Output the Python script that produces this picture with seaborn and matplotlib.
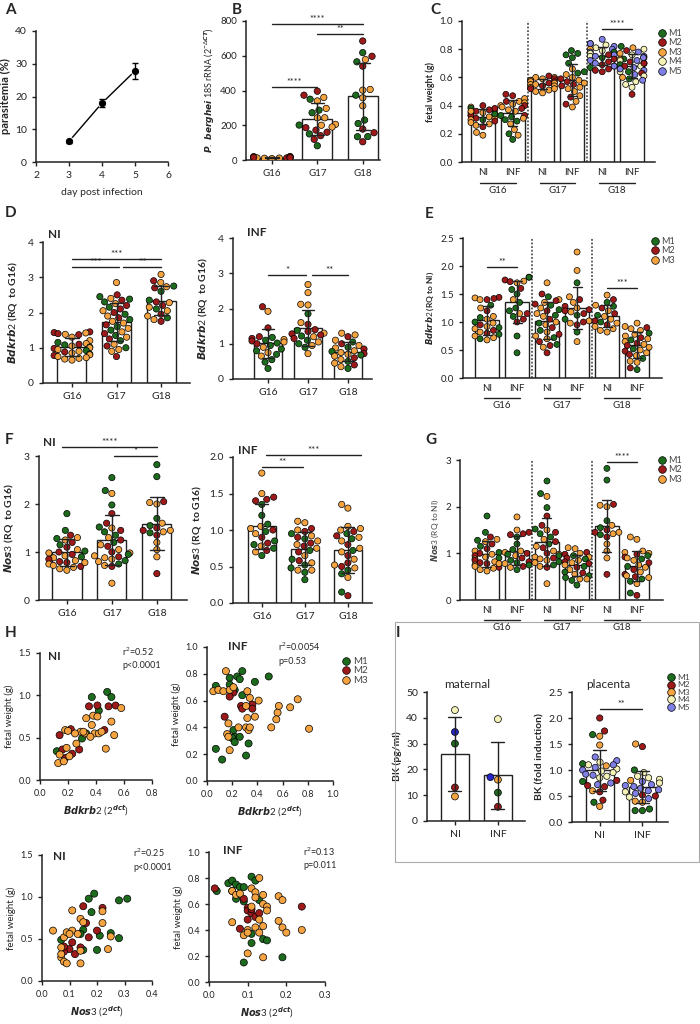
import numpy as np
import pandas as pd
import matplotlib
matplotlib.use("Agg")
import matplotlib.pyplot as plt
import seaborn as sns
from matplotlib.lines import Line2D
from matplotlib.patches import Rectangle
from matplotlib.transforms import blended_transform_factory

sns.set_style("ticks")
plt.rcParams['font.family'] = ['Lato', 'DejaVu Sans']
plt.rcParams['mathtext.fontset'] = 'custom'
plt.rcParams['mathtext.it'] = 'DejaVu Sans:italic:bold'
plt.rcParams['mathtext.rm'] = 'Lato'
plt.rcParams['mathtext.bf'] = 'Lato:bold'

# ---------------- colours ----------------
PAL = {"M1": "#1d6b1d", "M2": "#9e1a1a", "M3": "#f4a340", "M4": "#f5f2b8", "M5": "#7f7fe6"}
PAL_MAT = {"M1": "#1d6b1d", "M2": "#9e1a1a", "M3": "#f4a340", "M4": "#f5f2b8", "M5": "#2424c8"}

# ---------------- A ----------------
A_day = [3, 4, 5]
A_para = [6.3, 18.0, 27.8]
A_err = [0.5, 1.3, 2.5]

# ---------------- B ----------------
B_groups = ["G16", "G17", "G18"]
B_G16_v = [15, 10, 18, 12, 20, 8, 14, 16, 11, 19, 13, 17, 12, 15]
B_G16_m = [3, 3, 1, 2, 3, 3, 1, 2, 3, 1, 2, 3, 3, 2]
B_G17_v = [350, 287, 272, 201, 82, 150, 396, 373, 186, 172, 160, 119, 140, 360, 340, 297, 243, 243, 205, 200, 190]
B_G17_m = [1, 1, 1, 1, 1, 1, 2, 2, 2, 2, 2, 2, 2, 3, 3, 3, 3, 3, 3, 3, 3]
B_G18_v = [685, 597, 540, 178, 157, 105, 618, 565, 373, 230, 210, 134, 135, 578, 406, 402, 358, 312]
B_G18_m = [2, 2, 2, 2, 2, 2, 1, 1, 1, 1, 1, 1, 1, 3, 3, 3, 3, 3]

# ---------------- C (fetal weight) ----------------
C_ticklabels = ["NI", "INF", "NI", "INF", "NI", "INF"]
C_gest = ["G16", "G17", "G18"]
C_G16NI_v = [0.40, 0.39, 0.38, 0.37, 0.36, 0.35, 0.35, 0.34, 0.33, 0.33, 0.32, 0.31, 0.31, 0.30, 0.30, 0.29, 0.28, 0.27, 0.26, 0.25, 0.21, 0.19, 0.38, 0.36, 0.34, 0.37]
C_G16NI_m = [2, 3, 1, 3, 2, 3, 2, 3, 1, 2, 3, 2, 3, 1, 3, 2, 3, 3, 3, 2, 3, 3, 2, 3, 1, 2]
C_G16INF_v = [0.48, 0.47, 0.45, 0.43, 0.43, 0.42, 0.41, 0.40, 0.40, 0.39, 0.38, 0.37, 0.36, 0.33, 0.33, 0.32, 0.31, 0.30, 0.29, 0.27, 0.23, 0.20, 0.19, 0.16]
C_G16INF_m = [2, 2, 3, 3, 2, 3, 3, 2, 3, 3, 2, 3, 3, 1, 2, 1, 3, 1, 1, 3, 3, 1, 3, 1]
C_G17NI_v = [0.61, 0.60, 0.60, 0.59, 0.59, 0.58, 0.58, 0.57, 0.57, 0.56, 0.56, 0.55, 0.55, 0.54, 0.54, 0.53, 0.52, 0.52, 0.51, 0.50, 0.49]
C_G17NI_m = [2, 3, 3, 3, 2, 3, 3, 2, 3, 3, 2, 3, 3, 3, 2, 3, 3, 2, 3, 3, 3]
C_G17INF_v = [0.79, 0.77, 0.76, 0.74, 0.70, 0.66, 0.64, 0.63, 0.62, 0.60, 0.59, 0.58, 0.57, 0.56, 0.55, 0.54, 0.53, 0.52, 0.50, 0.47, 0.46, 0.43, 0.41, 0.39]
C_G17INF_m = [1, 1, 1, 1, 1, 3, 1, 1, 3, 3, 2, 3, 2, 3, 2, 2, 3, 3, 3, 3, 2, 3, 2, 3]
C_G18NI_v = [0.87, 0.84, 0.84, 0.83, 0.82, 0.81, 0.80, 0.80, 0.79, 0.78, 0.78, 0.77, 0.76, 0.76, 0.75, 0.75, 0.74, 0.73, 0.72, 0.71, 0.70, 0.69, 0.68, 0.68, 0.67, 0.66, 0.65, 0.64]
C_G18NI_m = [5, 4, 5, 4, 5, 4, 5, 3, 4, 5, 1, 4, 5, 2, 4, 5, 1, 2, 5, 2, 5, 2, 4, 5, 1, 2, 2, 2]
C_G18INF_v = [0.82, 0.81, 0.80, 0.79, 0.78, 0.77, 0.76, 0.75, 0.74, 0.73, 0.73, 0.72, 0.72, 0.71, 0.70, 0.70, 0.69, 0.68, 0.68, 0.67, 0.66, 0.65, 0.64, 0.64, 0.63, 0.62, 0.61, 0.60, 0.59, 0.58, 0.57, 0.55, 0.53, 0.48, 0.66, 0.70, 0.74]
C_G18INF_m = [1, 3, 4, 2, 5, 3, 4, 5, 2, 1, 3, 5, 4, 2, 3, 5, 1, 4, 2, 5, 3, 5, 1, 4, 2, 5, 4, 3, 1, 5, 4, 4, 4, 2, 5, 2, 5]

# ---------------- D (Bdkrb2 RQ to G16) ----------------
D_NI_G16_v = [1.45, 1.43, 1.42, 1.40, 1.38, 1.37, 1.30, 1.20, 1.15, 1.12, 1.10, 1.08, 1.05, 1.02, 1.00, 0.98, 0.95, 0.92, 0.90, 0.88, 0.85, 0.82, 0.80, 0.78, 0.75, 0.72, 0.70, 0.68, 0.65]
D_NI_G16_m = [2, 2, 3, 2, 3, 2, 3, 3, 1, 3, 2, 1, 3, 1, 3, 2, 3, 1, 3, 2, 3, 1, 3, 2, 3, 3, 3, 3, 3]
D_NI_G17_v = [2.85, 2.50, 2.45, 2.40, 2.38, 2.35, 2.30, 2.25, 2.20, 2.15, 2.10, 2.05, 2.00, 1.95, 1.90, 1.85, 1.80, 1.75, 1.70, 1.65, 1.60, 1.55, 1.50, 1.45, 1.40, 1.35, 1.30, 1.25, 1.20, 1.10, 1.05, 1.00, 0.95, 0.90, 0.75]
D_NI_G17_m = [3, 2, 1, 3, 1, 2, 1, 3, 2, 1, 2, 3, 2, 1, 3, 2, 1, 3, 3, 2, 1, 3, 1, 3, 2, 1, 3, 2, 1, 3, 2, 1, 3, 3, 2]
D_NI_G18_v = [3.08, 2.90, 2.85, 2.75, 2.73, 2.70, 2.60, 2.35, 2.30, 2.28, 2.20, 2.15, 2.10, 2.05, 1.95, 1.90, 1.85, 1.80, 1.75]
D_NI_G18_m = [3, 2, 3, 1, 3, 2, 1, 1, 2, 3, 2, 3, 1, 3, 2, 3, 1, 3, 2]
D_INF_G16_v = [2.05, 1.92, 1.45, 1.20, 1.18, 1.15, 1.12, 1.10, 1.08, 1.05, 1.02, 1.00, 0.95, 0.90, 0.85, 0.80, 0.75, 0.70, 0.65, 0.55, 0.48, 0.30]
D_INF_G16_m = [2, 3, 2, 2, 1, 2, 3, 1, 2, 3, 1, 2, 1, 3, 1, 1, 3, 1, 3, 1, 1, 1]
D_INF_G17_v = [2.68, 2.45, 2.12, 2.10, 1.85, 1.60, 1.55, 1.40, 1.38, 1.35, 1.30, 1.28, 1.25, 1.22, 1.20, 1.15, 1.10, 1.05, 1.00, 0.95, 0.90, 0.72]
D_INF_G17_m = [3, 3, 3, 3, 1, 3, 2, 2, 1, 2, 3, 2, 2, 1, 3, 2, 1, 3, 1, 3, 1, 3]
D_INF_G18_v = [1.30, 1.25, 1.20, 1.10, 1.05, 1.00, 0.95, 0.90, 0.88, 0.85, 0.80, 0.78, 0.75, 0.72, 0.70, 0.68, 0.65, 0.60, 0.55, 0.50, 0.45, 0.40, 0.35, 0.30]
D_INF_G18_m = [3, 3, 2, 3, 1, 2, 3, 1, 3, 2, 3, 1, 3, 2, 3, 1, 3, 2, 3, 1, 3, 2, 3, 1]

# ---------------- E (Bdkrb2 RQ to NI) ----------------
E_G16NI_v = [1.44, 1.43, 1.42, 1.40, 1.40, 1.30, 1.25, 1.20, 1.10, 1.08, 1.05, 1.00, 0.98, 0.95, 0.92, 0.90, 0.88, 0.85, 0.82, 0.80, 0.78, 0.75, 0.72, 0.70, 0.68]
E_G16NI_m = [2, 3, 2, 2, 3, 1, 3, 2, 3, 1, 3, 1, 3, 2, 3, 1, 3, 2, 3, 2, 1, 3, 3, 1, 3]
E_G16INF_v = [1.80, 1.80, 1.75, 1.73, 1.72, 1.70, 1.60, 1.58, 1.50, 1.40, 1.35, 1.25, 1.20, 1.15, 1.15, 1.10, 1.05, 1.00, 0.75, 0.45]
E_G16INF_m = [2, 1, 2, 3, 2, 3, 2, 1, 1, 3, 1, 1, 1, 3, 2, 1, 2, 2, 1, 1]
E_G17NI_v = [1.70, 1.50, 1.45, 1.40, 1.38, 1.35, 1.32, 1.30, 1.25, 1.22, 1.20, 1.15, 1.12, 1.10, 1.05, 1.00, 0.98, 0.95, 0.90, 0.85, 0.82, 0.78, 0.75, 0.72, 0.70, 0.65, 0.60, 0.58, 0.55, 0.45]
E_G17NI_m = [3, 2, 1, 3, 2, 3, 2, 1, 3, 1, 2, 3, 1, 3, 2, 3, 1, 3, 2, 1, 3, 2, 3, 1, 3, 2, 1, 2, 3, 2]
E_G17INF_v = [2.25, 1.92, 1.70, 1.45, 1.40, 1.35, 1.28, 1.25, 1.22, 1.20, 1.18, 1.15, 1.12, 1.05, 1.02, 1.00, 0.98, 0.95, 0.82, 0.65]
E_G17INF_m = [3, 3, 1, 3, 2, 3, 2, 3, 2, 2, 3, 2, 1, 1, 3, 2, 3, 2, 1, 3]
E_G18NI_v = [1.48, 1.40, 1.35, 1.30, 1.28, 1.25, 1.20, 1.15, 1.12, 1.10, 1.05, 1.02, 1.00, 0.98, 0.95, 0.92, 0.88, 0.85, 0.82]
E_G18NI_m = [3, 2, 1, 3, 1, 2, 3, 2, 1, 3, 3, 2, 1, 3, 2, 3, 3, 3, 3]
E_G18INF_v = [0.98, 0.92, 0.90, 0.88, 0.85, 0.80, 0.78, 0.75, 0.72, 0.70, 0.68, 0.65, 0.62, 0.60, 0.58, 0.55, 0.52, 0.50, 0.48, 0.45, 0.42, 0.40, 0.35, 0.30, 0.28, 0.18, 0.15]
E_G18INF_m = [3, 3, 2, 3, 3, 1, 3, 3, 2, 3, 1, 3, 2, 3, 2, 3, 1, 3, 2, 3, 2, 3, 1, 3, 3, 2, 1]

# ---------------- F / G (Nos3) ----------------
F_NI_G16_v = [1.80, 1.45, 1.35, 1.30, 1.28, 1.25, 1.20, 1.15, 1.10, 1.05, 1.02, 1.00, 0.98, 0.95, 0.92, 0.90, 0.88, 0.85, 0.82, 0.80, 0.78, 0.75, 0.72, 0.70, 0.68, 0.65, 0.62, 0.78]
F_NI_G16_m = [1, 1, 2, 3, 1, 3, 2, 1, 2, 3, 1, 2, 3, 2, 3, 1, 3, 2, 3, 2, 2, 3, 3, 2, 3, 3, 3, 3]
F_NI_G17_v = [2.55, 2.28, 2.22, 1.98, 1.80, 1.60, 1.52, 1.50, 1.45, 1.42, 1.35, 1.30, 1.25, 1.20, 1.15, 1.12, 1.05, 1.00, 0.98, 0.95, 0.92, 0.90, 0.88, 0.85, 0.82, 0.80, 0.75, 0.72, 0.70, 0.35]
F_NI_G17_m = [1, 1, 3, 1, 2, 2, 1, 3, 2, 1, 1, 3, 2, 1, 3, 2, 3, 2, 3, 1, 3, 2, 3, 3, 1, 3, 1, 3, 2, 3]
F_NI_G18_v = [2.82, 2.57, 2.05, 2.03, 2.00, 1.70, 1.60, 1.55, 1.50, 1.45, 1.45, 1.42, 1.40, 1.35, 1.20, 1.05, 0.90, 0.55]
F_NI_G18_m = [1, 1, 2, 3, 3, 1, 3, 1, 2, 3, 2, 3, 1, 2, 3, 3, 3, 2]
F_INF_G16_v = [1.78, 1.50, 1.45, 1.42, 1.40, 1.35, 1.20, 1.08, 1.05, 1.02, 1.00, 0.98, 0.95, 0.90, 0.85, 0.82, 0.80, 0.78, 0.75, 0.72, 0.70, 0.65]
F_INF_G16_m = [3, 3, 2, 2, 2, 1, 1, 1, 3, 3, 2, 1, 3, 2, 1, 2, 1, 3, 1, 2, 3, 1]
F_INF_G17_v = [1.12, 1.10, 1.02, 1.00, 0.98, 0.95, 0.92, 0.90, 0.88, 0.85, 0.82, 0.80, 0.78, 0.75, 0.72, 0.70, 0.65, 0.60, 0.58, 0.55, 0.52, 0.48, 0.45, 0.45, 0.42, 0.32]
F_INF_G17_m = [3, 3, 2, 3, 2, 1, 3, 2, 1, 3, 2, 3, 2, 3, 1, 2, 3, 1, 2, 3, 1, 1, 3, 3, 1, 1]
F_INF_G18_v = [1.35, 1.30, 1.05, 1.02, 1.00, 0.98, 0.95, 0.92, 0.90, 0.88, 0.85, 0.80, 0.75, 0.72, 0.70, 0.65, 0.60, 0.55, 0.52, 0.50, 0.48, 0.45, 0.40, 0.35, 0.15, 0.10]
F_INF_G18_m = [3, 3, 3, 3, 3, 2, 1, 2, 3, 1, 3, 2, 3, 1, 3, 2, 3, 2, 3, 2, 3, 1, 1, 3, 1, 2]

# ---------------- H scatter ----------------
H1_x = [0.48, 0.51, 0.37, 0.42, 0.30, 0.12, 0.33,
        0.35, 0.41, 0.49, 0.54, 0.14, 0.22, 0.28, 0.23, 0.18, 0.16, 0.46,
        0.58, 0.51, 0.53, 0.47, 0.33, 0.38, 0.41, 0.37, 0.18, 0.20, 0.26, 0.29, 0.32, 0.39, 0.42, 0.44, 0.36, 0.13, 0.17, 0.19, 0.14, 0.21, 0.31, 0.25]
H1_y = [1.04, 0.98, 0.98, 0.82, 0.49, 0.34, 0.55,
        0.87, 0.88, 0.87, 0.88, 0.53, 0.60, 0.36, 0.31, 0.26, 0.36, 0.59,
        0.85, 0.69, 0.53, 0.37, 0.73, 0.76, 0.75, 0.65, 0.59, 0.58, 0.43, 0.57, 0.55, 0.55, 0.55, 0.57, 0.51, 0.20, 0.22, 0.38, 0.30, 0.28, 0.57, 0.55]
H1_m = [1, 1, 1, 1, 1, 1, 1,
        2, 2, 2, 2, 2, 2, 2, 2, 2, 2, 2,
        3, 3, 3, 3, 3, 3, 3, 3, 3, 3, 3, 3, 3, 3, 3, 3, 3, 3, 3, 3, 3, 3, 3, 3]

H2_x = [0.07, 0.28, 0.18, 0.24, 0.26, 0.38, 0.49, 0.18, 0.22, 0.28, 0.21, 0.22, 0.26, 0.20, 0.07, 0.12, 0.31, 0.22, 0.33,
        0.14, 0.20, 0.27, 0.28, 0.36, 0.36, 0.21, 0.18,
        0.15, 0.05, 0.09, 0.13, 0.18, 0.21, 0.32, 0.41, 0.34, 0.31, 0.32, 0.31, 0.33, 0.25, 0.34, 0.17, 0.16, 0.18, 0.38, 0.57, 0.56, 0.55, 0.51, 0.66, 0.72, 0.81, 0.17]
H2_y = [0.71, 0.82, 0.77, 0.78, 0.76, 0.74, 0.78, 0.72, 0.68, 0.64, 0.38, 0.33, 0.33, 0.32, 0.24, 0.16, 0.19, 0.29, 0.28,
        0.48, 0.67, 0.56, 0.54, 0.57, 0.54, 0.66, 0.63,
        0.82, 0.67, 0.68, 0.67, 0.68, 0.70, 0.67, 0.60, 0.62, 0.56, 0.47, 0.40, 0.38, 0.40, 0.40, 0.43, 0.35, 0.23, 0.48, 0.56, 0.51, 0.46, 0.40, 0.55, 0.61, 0.39, 0.33]
H2_m = [1, 1, 1, 1, 1, 1, 1, 1, 1, 1, 1, 1, 1, 1, 1, 1, 1, 1, 1,
        2, 2, 2, 2, 2, 2, 2, 2,
        3, 3, 3, 3, 3, 3, 3, 3, 3, 3, 3, 3, 3, 3, 3, 3, 3, 3, 3, 3, 3, 3, 3, 3, 3, 3, 3]

H3_x = [0.19, 0.17, 0.28, 0.31, 0.18, 0.21, 0.25, 0.28, 0.20, 0.15, 0.15, 0.14, 0.07,
        0.15, 0.22, 0.20, 0.17, 0.10, 0.08, 0.11, 0.12, 0.14, 0.16, 0.08,
        0.04, 0.11, 0.14, 0.15, 0.22, 0.22, 0.24, 0.25, 0.08, 0.09, 0.11, 0.13, 0.07, 0.08, 0.09, 0.14, 0.07, 0.14, 0.07, 0.10]
H3_y = [1.04, 0.98, 0.96, 0.98, 0.82, 0.54, 0.57, 0.51, 0.37, 0.37, 0.61, 0.56, 0.49,
        0.89, 0.87, 0.60, 0.52, 0.38, 0.35, 0.46, 0.32, 0.40, 0.69, 0.41,
        0.60, 0.84, 0.74, 0.70, 0.83, 0.69, 0.38, 0.53, 0.52, 0.58, 0.60, 0.56, 0.28, 0.23, 0.21, 0.21, 0.32, 0.36, 0.40, 0.56]
H3_m = [1, 1, 1, 1, 1, 1, 1, 1, 1, 1, 1, 1, 1,
        2, 2, 2, 2, 2, 2, 2, 2, 2, 2, 2,
        3, 3, 3, 3, 3, 3, 3, 3, 3, 3, 3, 3, 3, 3, 3, 3, 3, 3, 3, 3]

H4_x = [0.02, 0.05, 0.06, 0.07, 0.08, 0.09, 0.11, 0.12, 0.07, 0.09, 0.13, 0.11, 0.11, 0.14, 0.15, 0.09, 0.19, 0.06,
        0.015, 0.09, 0.10, 0.10, 0.11, 0.10, 0.12, 0.13, 0.08, 0.24, 0.11,
        0.06, 0.07, 0.08, 0.11, 0.12, 0.13, 0.12, 0.14, 0.14, 0.15, 0.15, 0.13, 0.12, 0.10, 0.09, 0.10, 0.13, 0.14, 0.10, 0.14, 0.06, 0.18, 0.19, 0.18, 0.19, 0.20, 0.24, 0.11]
H4_y = [0.70, 0.76, 0.78, 0.75, 0.73, 0.73, 0.81, 0.78, 0.64, 0.62, 0.63, 0.37, 0.30, 0.33, 0.32, 0.15, 0.19, 0.70,
        0.72, 0.64, 0.57, 0.55, 0.53, 0.48, 0.50, 0.53, 0.41, 0.58, 0.56,
        0.70, 0.67, 0.68, 0.72, 0.69, 0.80, 0.65, 0.67, 0.60, 0.58, 0.55, 0.48, 0.42, 0.40, 0.36, 0.38, 0.38, 0.43, 0.22, 0.19, 0.46, 0.66, 0.63, 0.47, 0.42, 0.38, 0.40, 0.58]
H4_m = [1, 1, 1, 1, 1, 1, 1, 1, 1, 1, 1, 1, 1, 1, 1, 1, 1, 1,
        2, 2, 2, 2, 2, 2, 2, 2, 2, 2, 2,
        3, 3, 3, 3, 3, 3, 3, 3, 3, 3, 3, 3, 3, 3, 3, 3, 3, 3, 3, 3, 3, 3, 3, 3, 3, 3, 3, 3]

# ---------------- I (bradykinin) ----------------
I_mat_NI_v = [43, 34.5, 30, 13, 9.5]
I_mat_NI_m = [4, 5, 1, 2, 3]
I_mat_INF_v = [39.5, 17, 16, 11, 5.5]
I_mat_INF_m = [4, 5, 3, 1, 2]
I_pla_NI_v = [2.00, 1.75, 1.68, 1.65, 1.48, 1.25, 1.18, 1.15, 1.12, 1.10, 1.08, 1.05, 1.02, 1.00, 0.98, 0.95, 0.92, 0.88, 0.85, 0.80, 0.78, 0.75, 0.72, 0.70, 0.68, 0.60, 0.58, 0.42, 0.38, 0.30, 1.10, 0.90]
I_pla_NI_m = [2, 2, 1, 3, 3, 5, 5, 4, 1, 4, 3, 5, 4, 5, 4, 4, 5, 4, 4, 2, 1, 5, 5, 2, 2, 3, 2, 2, 1, 3, 5, 5]
I_pla_INF_v = [1.50, 1.45, 1.00, 0.95, 0.88, 0.85, 0.82, 0.80, 0.78, 0.75, 0.72, 0.70, 0.68, 0.65, 0.62, 0.60, 0.58, 0.55, 0.52, 0.50, 0.48, 0.45, 0.40, 0.38, 0.25, 0.22, 0.22]
I_pla_INF_m = [3, 2, 1, 4, 4, 4, 4, 3, 5, 4, 5, 5, 5, 5, 5, 5, 4, 5, 2, 2, 4, 5, 3, 3, 1, 1, 1]

# ======================================================================
W, H = 700, 1024
fig = plt.figure(figsize=(W / 100, H / 100), dpi=100)
INK = "#222222"


def px_axes(x0, y0, x1, y1):
    return fig.add_axes([x0 / W, 1 - y1 / H, (x1 - x0) / W, (y1 - y0) / H])


def T(x, y, s, **kw):
    kw.setdefault("va", "center")
    return fig.text(x / W, 1 - y / H, s, **kw)


def style(ax, ls=7):
    sns.despine(ax=ax)
    for sp in ("left", "bottom"):
        ax.spines[sp].set_linewidth(1.1)
        ax.spines[sp].set_color(INK)
    ax.tick_params(labelsize=ls, width=1, length=3, colors=INK, direction="out")


def mk(m):
    return ["M%d" % k for k in m]


def bar_swarm(ax, vals, mice, width, size=4.6, pal=PAL):
    rows = []
    for i, (vs, ms) in enumerate(zip(vals, mice)):
        for v, m in zip(vs, ms, strict=True):
            rows.append((i, v, "M%d" % m))
    df = pd.DataFrame(rows, columns=["g", "v", "m"])
    order = list(range(len(vals)))
    sns.barplot(data=df, x="g", y="v", order=order, errorbar="sd", width=width,
                color="white", saturation=1, edgecolor=INK, linewidth=1.0,
                capsize=0.3, err_kws={"color": INK, "linewidth": 1.0}, ax=ax)
    for ln in ax.lines:
        ln.set_zorder(5)
    sns.swarmplot(data=df, x="g", y="v", order=order, hue="m", palette=pal,
                  size=size, edgecolor="black", linewidth=0.5, legend=False,
                  ax=ax, zorder=3, warn_thresh=1)
    ax.set_xlabel("")
    ax.set_ylabel("")


def sig(ax, x1, x2, y, txt, fs=7):
    ax.plot([x1, x2], [y, y], color=INK, lw=1, clip_on=False, zorder=6)
    ax.text((x1 + x2) / 2, y, txt, ha="center", va="bottom", fontsize=fs, color=INK)


def groups_below(ax, line_y, text_y, fs=7):
    tr = blended_transform_factory(ax.transData, ax.transAxes)
    for k, g in enumerate(C_gest):
        c = 2 * k + 0.5
        ax.plot([c - 0.6, c + 0.6], [line_y, line_y], color=INK, lw=1, transform=tr, clip_on=False)
        ax.text(c, text_y, g, ha="center", va="top", fontsize=fs, transform=tr, color=INK)


def dotted(ax):
    for xv in (1.5, 3.5):
        ax.axvline(xv, color="#555555", lw=1.3, ls=(0, (1, 1)), zorder=1)


def legend_at(x, y, n, pal=PAL, fs=6.5):
    handles = [Line2D([], [], marker="o", ls="", markerfacecolor=pal["M%d" % (k + 1)],
                      markeredgecolor="black", markeredgewidth=0.5, markersize=5.5)
               for k in range(n)]
    fig.legend(handles, ["M%d" % (k + 1) for k in range(n)], loc="upper left",
               bbox_to_anchor=(x / W, 1 - y / H), frameon=False, fontsize=fs,
               handletextpad=0.2, labelspacing=0.05, borderaxespad=0, borderpad=0,
               handlelength=1.0, labelcolor="#444444")


# ---------------- A ----------------
ax = px_axes(36, 31, 168, 162)
sns.lineplot(x=A_day, y=A_para, marker="o", color="black", markersize=6, lw=1, ax=ax)
ax.errorbar(A_day, A_para, yerr=A_err, fmt="none", ecolor="black", elinewidth=1, capsize=2.5)
ax.set_xlim(2, 6)
ax.set_ylim(0, 40)
ax.set_xticks([2, 3, 4, 5, 6])
ax.set_yticks([0, 10, 20, 30, 40])
style(ax, 7.5)
ax.set_ylabel("parasitemia (%)", fontsize=8, fontweight="bold", labelpad=3)
ax.set_xlabel("day post infection", fontsize=7.5, labelpad=6)

# ---------------- B ----------------
ax = px_axes(246, 21, 380, 160)
bar_swarm(ax, [B_G16_v, B_G17_v, B_G18_v], [B_G16_m, B_G17_m, B_G18_m], 0.66, size=4.6)
ax.set_xlim(-0.57, 2.38)
ax.set_ylim(0, 800)
ax.set_yticks([0, 200, 400, 600, 800])
ax.set_xticks([0, 1, 2])
ax.set_xticklabels(B_groups)
style(ax, 7)
ax.set_ylabel(r"$\it{P.\ berghei}$ 18S rRNA (2$^{-\Delta CT}$)", fontsize=6.5, labelpad=2)
sig(ax, 0, 2, 780, "****", 6.5)
sig(ax, 1, 2, 727, "**", 6.5)
sig(ax, 0, 1, 420, "****", 6.5)

# ---------------- C ----------------
ax = px_axes(462, 21, 655, 162)
bar_swarm(ax, [C_G16NI_v, C_G16INF_v, C_G17NI_v, C_G17INF_v, C_G18NI_v, C_G18INF_v],
          [C_G16NI_m, C_G16INF_m, C_G17NI_m, C_G17INF_m, C_G18NI_m, C_G18INF_m], 0.8, size=4.3)
dotted(ax)
ax.set_xlim(-0.7, 5.77)
ax.set_ylim(0, 1.0)
ax.set_yticks([0, 0.2, 0.4, 0.6, 0.8, 1.0])
ax.set_yticklabels(["0.0", "0.2", "0.4", "0.6", "0.8", "1.0"])
ax.set_xticks(range(6))
ax.set_xticklabels(C_ticklabels)
style(ax, 7)
ax.tick_params(axis="x", length=0, pad=4)
ax.set_ylabel("fetal weight (g)", fontsize=6.5, fontweight="bold", labelpad=3)
sig(ax, 4, 5, 0.945, "****", 6.5)
groups_below(ax, -0.15, -0.17)
legend_at(657, 29, 5)

# ---------------- D ----------------
ax = px_axes(43, 242, 190, 383)
bar_swarm(ax, [D_NI_G16_v, D_NI_G17_v, D_NI_G18_v], [D_NI_G16_m, D_NI_G17_m, D_NI_G18_m], 0.65, size=4.5)
ax.set_xlim(-0.65, 2.65)
ax.set_ylim(0, 4)
ax.set_yticks([0, 1, 2, 3, 4])
ax.set_xticks([0, 1, 2])
ax.set_xticklabels(B_groups)
style(ax, 7.5)
ax.set_ylabel(r"$\it{Bdkrb2}$ (RQ  to G16)", fontsize=7.5, fontweight="bold", labelpad=6)
sig(ax, 0, 2, 3.53, "***")
sig(ax, 0, 1.05, 3.28, "***")
sig(ax, 1.15, 2, 3.28, "**")
T(48, 235, "NI", fontsize=8.5, fontweight="bold", ha="left")

ax = px_axes(233, 238, 372, 379)
bar_swarm(ax, [D_INF_G16_v, D_INF_G17_v, D_INF_G18_v], [D_INF_G16_m, D_INF_G17_m, D_INF_G18_m], 0.7, size=4.5)
ax.set_xlim(-0.875, 2.6)
ax.set_ylim(0, 4)
ax.set_yticks([0, 1, 2, 3, 4])
ax.set_xticks([0, 1, 2])
ax.set_xticklabels(B_groups)
style(ax, 7.5)
ax.set_ylabel(r"$\it{Bdkrb2}$ (RQ  to G16)", fontsize=7.5, fontweight="bold", labelpad=6)
sig(ax, 0, 0.95, 2.95, "*")
sig(ax, 1.1, 2, 2.95, "**")
T(247, 232, "INF", fontsize=8.5, fontweight="bold", ha="left")

# ---------------- E ----------------
ax = px_axes(463, 238, 662, 378)
bar_swarm(ax, [E_G16NI_v, E_G16INF_v, E_G17NI_v, E_G17INF_v, E_G18NI_v, E_G18INF_v],
          [E_G16NI_m, E_G16INF_m, E_G17NI_m, E_G17INF_m, E_G18NI_m, E_G18INF_m], 0.8, size=4.3)
dotted(ax)
ax.set_xlim(-0.8, 5.83)
ax.set_ylim(0, 2.5)
ax.set_yticks([0, 0.5, 1.0, 1.5, 2.0, 2.5])
ax.set_yticklabels(["0.0", "0.5", "1.0", "1.5", "2.0", "2.5"])
ax.set_xticks(range(6))
ax.set_xticklabels(C_ticklabels)
style(ax, 7)
ax.tick_params(axis="x", length=0, pad=4)
ax.set_ylabel(r"$\it{Bdkrb2}$ (RQ to NI)", fontsize=6, fontweight="bold", labelpad=3)
sig(ax, 0, 1, 1.98, "**", 6.5)
sig(ax, 4, 5, 1.60, "***", 6.5)
groups_below(ax, -0.145, -0.165)
legend_at(650, 237, 3)

# ---------------- F ----------------
ax = px_axes(39, 456, 187, 600)
bar_swarm(ax, [F_NI_G16_v, F_NI_G17_v, F_NI_G18_v], [F_NI_G16_m, F_NI_G17_m, F_NI_G18_m], 0.65, size=4.5)
ax.set_xlim(-0.62, 2.67)
ax.set_ylim(0, 3)
ax.set_yticks([0, 1, 2, 3])
ax.set_xticks([0, 1, 2])
ax.set_xticklabels(B_groups)
style(ax, 7.5)
ax.set_ylabel(r"$\it{Nos3}$ (RQ  to G16)", fontsize=7.5, fontweight="bold", labelpad=6)
sig(ax, -0.1, 2, 3.19, "****")
sig(ax, 1.05, 2, 3.0, "*")
T(43, 443, "NI", fontsize=8.5, fontweight="bold", ha="left")

ax = px_axes(233, 457, 372, 603)
bar_swarm(ax, [F_INF_G16_v, F_INF_G17_v, F_INF_G18_v], [F_INF_G16_m, F_INF_G17_m, F_INF_G18_m], 0.65, size=4.5)
ax.set_xlim(-0.67, 2.56)
ax.set_ylim(0, 2.0)
ax.set_yticks([0, 0.5, 1.0, 1.5, 2.0])
ax.set_yticklabels(["0.0", "0.5", "1.0", "1.5", "2.0"])
ax.set_xticks([0, 1, 2])
ax.set_xticklabels(B_groups)
style(ax, 7.5)
ax.set_ylabel(r"$\it{Nos3}$ (RQ  to G16)", fontsize=7.5, fontweight="bold", labelpad=4)
sig(ax, 0.1, 2.3, 2.03, "***")
sig(ax, 0, 0.95, 1.86, "**")
T(238, 450, "INF", fontsize=8.5, fontweight="bold", ha="left")

# ---------------- G ----------------
ax = px_axes(460, 460, 663, 600)
bar_swarm(ax, [F_NI_G16_v, F_INF_G16_v, F_NI_G17_v, F_INF_G17_v, F_NI_G18_v, F_INF_G18_v],
          [F_NI_G16_m, F_INF_G16_m, F_NI_G17_m, F_INF_G17_m, F_NI_G18_m, F_INF_G18_m], 0.8, size=4.3)
dotted(ax)
ax.set_xlim(-0.9, 5.87)
ax.set_ylim(0, 3)
ax.set_yticks([0, 1, 2, 3])
ax.set_xticks(range(6))
ax.set_xticklabels(C_ticklabels)
style(ax, 7)
ax.tick_params(axis="x", length=0, pad=4)
ax.set_ylabel(r"$Nos3$ (RQ to NI)", fontsize=6, labelpad=3, color="#444444")
sig(ax, 4, 5, 2.95, "****", 6.5)
groups_below(ax, -0.143, -0.165)
legend_at(657, 456, 3)

# ---------------- H ----------------
def scatter_panel(box, xs, ys, ms, xlim, xt, ylim, yt, xlabel):
    ax = px_axes(*box)
    sns.scatterplot(x=xs, y=ys, hue=mk(ms), palette=PAL, s=26, edgecolor="black",
                    linewidth=0.5, legend=False, ax=ax, zorder=3)
    ax.set_xlim(*xlim)
    ax.set_ylim(*ylim)
    ax.set_xticks(xt)
    ax.set_xticklabels(["%.1f" % v for v in xt])
    ax.set_yticks(yt)
    ax.set_yticklabels(["%.1f" % v for v in yt])
    style(ax, 6.5)
    ax.set_ylabel("fetal weight (g)", fontsize=7, labelpad=3)
    ax.set_xlabel(xlabel, fontsize=7, labelpad=4)
    return ax


bdk_lab = r"$\it{Bdkrb2}$ $\it{(2^{dct})}$"
nos_lab = r"$\it{Nos3}$ $\it{(2^{dct})}$"
scatter_panel((40, 653, 152, 780), H1_x, H1_y, H1_m, (0, 0.8), [0, 0.2, 0.4, 0.6, 0.8],
              (0, 1.5), [0, 0.5, 1.0, 1.5], bdk_lab)
scatter_panel((207, 647, 333, 781), H2_x, H2_y, H2_m, (0, 1.0), [0, 0.2, 0.4, 0.6, 0.8, 1.0],
              (0, 1.0), [0, 0.2, 0.4, 0.6, 0.8, 1.0], bdk_lab)
scatter_panel((42, 855, 152, 981), H3_x, H3_y, H3_m, (0, 0.4), [0, 0.1, 0.2, 0.3, 0.4],
              (0, 1.5), [0, 0.5, 1.0, 1.5], nos_lab)
scatter_panel((209, 852, 325, 982), H4_x, H4_y, H4_m, (0, 0.3), [0, 0.1, 0.2, 0.3],
              (0, 1.0), [0, 0.2, 0.4, 0.6, 0.8, 1.0], nos_lab)

T(48, 656, "NI", fontsize=8.5, fontweight="bold", ha="left")
T(228, 646, "INF", fontsize=8.5, fontweight="bold", ha="left")
T(53, 856, "NI", fontsize=8.5, fontweight="bold", ha="left")
T(223, 851, "INF", fontsize=8.5, fontweight="bold", ha="left")
T(122, 652, r"r$^2$=0.52", fontsize=6.5, ha="left")
T(122, 666, "p<0.0001", fontsize=6.5, ha="left")
T(278, 647, r"r$^2$=0.0054", fontsize=6.5, ha="left")
T(278, 661, "p=0.53", fontsize=6.5, ha="left")
T(133, 853, r"r$^2$=0.25", fontsize=6.5, ha="left")
T(133, 867, "p<0.0001", fontsize=6.5, ha="left")
T(303, 852, r"r$^2$=0.13", fontsize=6.5, ha="left")
T(303, 866, "p=0.011", fontsize=6.5, ha="left")
legend_at(341, 657, 3, fs=7)

# ---------------- I ----------------
ax = px_axes(427, 692, 525, 821)
bar_swarm(ax, [I_mat_NI_v, I_mat_INF_v], [I_mat_NI_m, I_mat_INF_m], 0.65, size=5, pal=PAL_MAT)
ax.set_xlim(-0.65, 1.63)
ax.set_ylim(0, 50)
ax.set_yticks([0, 10, 20, 30, 40, 50])
ax.set_xticks([0, 1])
ax.set_xticklabels(["NI", "INF"])
style(ax, 7.5)
ax.set_ylabel("BK (pg/ml)", fontsize=7.5, fontweight="bold", labelpad=3)
T(467, 685, "maternal", fontsize=8.5, ha="center")

ax = px_axes(572, 692, 668, 822)
bar_swarm(ax, [I_pla_NI_v, I_pla_INF_v], [I_pla_NI_m, I_pla_INF_m], 0.65, size=4.5)
ax.set_xlim(-0.65, 1.6)
ax.set_ylim(0, 2.5)
ax.set_yticks([0, 0.5, 1.0, 1.5, 2.0, 2.5])
ax.set_yticklabels(["0.0", "0.5", "1.0", "1.5", "2.0", "2.5"])
ax.set_xticks([0, 1])
ax.set_xticklabels(["NI", "INF"])
style(ax, 7.5)
ax.set_ylabel("BK (fold induction)", fontsize=7.5, fontweight="bold", labelpad=3)
sig(ax, 0, 1, 2.17, "**", 6.5)
T(608, 685, "placenta", fontsize=8.5, ha="center")
legend_at(667, 674, 5, fs=6)

fig.add_artist(Rectangle((395 / W, 1 - 862 / H), (699 - 395) / W, (862 - 622) / H,
                         fill=False, ec="#aaaaaa", lw=0.8, transform=fig.transFigure))

# ---------------- panel letters ----------------
for (lx, ly, L) in [(5, 10, "A"), (232, 10, "B"), (430, 10, "C"), (5, 213, "D"),
                    (425, 214, "E"), (5, 440, "F"), (425, 440, "G"), (5, 633, "H"), (396, 633, "I")]:
    T(lx, ly, L, fontsize=11, fontweight="bold", ha="left")

fig.savefig("out.png", dpi=100)
